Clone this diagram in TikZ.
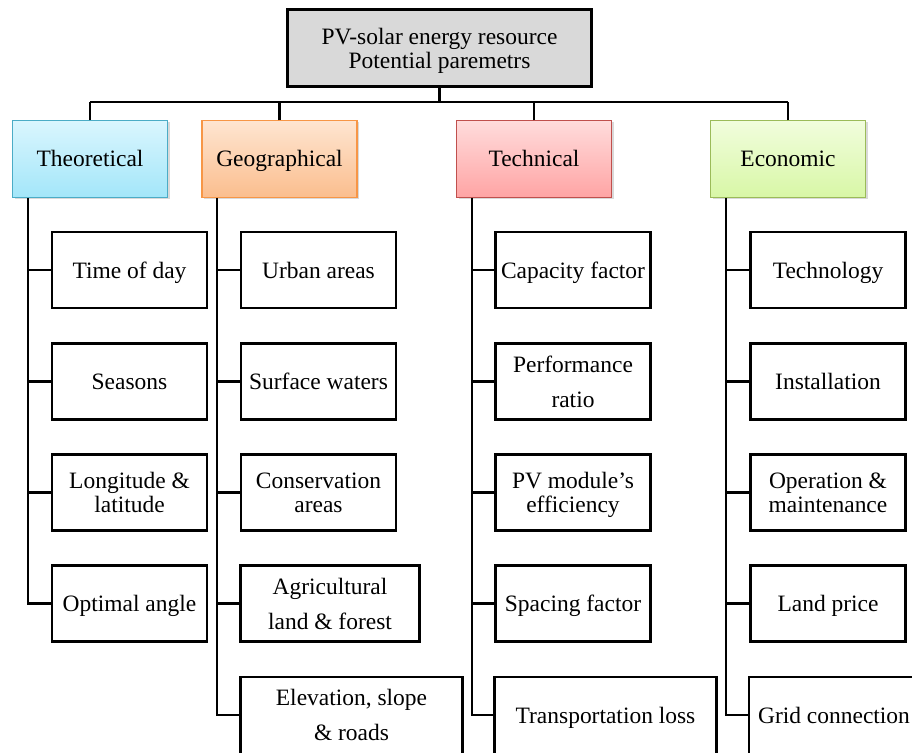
\documentclass[tikz,border=0pt]{standalone}
\usepackage{fontspec}
\setmainfont{Liberation Serif}
\usetikzlibrary{shadows}
\definecolor{thD}{HTML}{4BACC6}\definecolor{thA}{HTML}{DAF6FE}\definecolor{thB}{HTML}{A3E6F9}
\definecolor{geD}{HTML}{F79646}\definecolor{geA}{HTML}{FEE5D1}\definecolor{geB}{HTML}{FBBE8E}
\definecolor{teD}{HTML}{C0504D}\definecolor{teA}{HTML}{FFDCDC}\definecolor{teB}{HTML}{FFA4A4}
\definecolor{ecD}{HTML}{9BBB59}\definecolor{ecA}{HTML}{F1FDDD}\definecolor{ecB}{HTML}{D8F7A6}
\begin{document}
\begin{tikzpicture}[x=0.75pt,y=-0.75pt,
  font=\fontsize{17.6}{18}\selectfont,
  every node/.style={outer sep=0pt, text height=15pt, text depth=3pt},
  bx/.style={draw=black, line width=2.2pt, line join=miter, minimum width=116.25pt, minimum height=57pt, align=center, inner sep=1pt, fill=white},
  tight/.style={text height=33.5pt, text depth=3pt},
  loose/.style={font=\fontsize{17.6}{26}\selectfont, text height=41.25pt, text depth=3pt},
  lastone/.style={anchor=north, text height=33.5pt, text depth=30.5pt},
  lasttwo/.style={anchor=north, font=\fontsize{17.6}{26}\selectfont, text height=46.25pt, text depth=17.75pt},
  cat/.style={line width=1.4pt, minimum width=116.25pt, minimum height=57.75pt, inner sep=1pt,
    drop shadow={opacity=0.3,shadow xshift=1.5pt,shadow yshift=-1.5pt}},
  wire/.style={line width=2.2pt, line join=miter}]
\clip (0,0) rectangle (912,752);
% top
\node[bx, tight, fill=gray!30, minimum width=228pt, minimum height=57.75pt] (top) at (439.5,48) {PV-solar energy resource\\Potential paremetrs};
% categories
\node[cat, draw=thD, top color=thA, bottom color=thB] (th) at (90,159) {Theoretical};
\node[cat, draw=geD, top color=geA, bottom color=geB] (ge) at (279.5,159) {Geographical};
\node[cat, draw=teD, top color=teA, bottom color=teB] (te) at (534,159) {Technical};
\node[cat, draw=ecD, top color=ecA, bottom color=ecB] (ec) at (788,159) {Economic};
% bar
\coordinate (bL) at (90,102);
\coordinate (bR) at (788,102);
\draw[wire] (bL) -- (bR);
\draw[wire] (top.south) -- (top.south |- bL);
\foreach \n in {th,ge,te,ec} \draw[wire] (\n.north) -- (\n.north |- bL);
% theoretical children
\node[bx] (t1) at (129.5,270) {Time of day};
\node[bx] (t2) at (129.5,381.5) {Seasons};
\node[bx, tight] (t3) at (129.5,492.5) {Longitude \&\\latitude};
\node[bx] (t4) at (129.5,603.5) {Optimal angle};
% geographical children
\node[bx] (g1) at (318.5,270) {Urban areas};
\node[bx] (g2) at (318.5,381.5) {Surface waters};
\node[bx, tight] (g3) at (318.5,492.5) {Conservation\\areas};
\node[bx, loose, minimum width=134pt] (g4) at (330,603.5) {Agricultural\\land \& forest};
\node[bx, lasttwo, minimum width=166.5pt] (g5) at (351.5,677) {Elevation, slope\\\& roads};
% technical children
\node[bx] (k1) at (573,270) {Capacity factor};
\node[bx, loose] (k2) at (573,381.5) {Performance\\ratio};
\node[bx, tight] (k3) at (573,492.5) {PV module’s\\efficiency};
\node[bx] (k4) at (573,603.5) {Spacing factor};
\node[bx, lastone, minimum width=166.5pt] (k5) at (605.5,677) {Transportation loss};
% economic children
\node[bx] (e1) at (828,270) {Technology};
\node[bx] (e2) at (828,381.5) {Installation};
\node[bx, tight] (e3) at (828,492.5) {Operation \&\\maintenance};
\node[bx] (e4) at (828,603.5) {Land price};
\node[bx, lastone, minimum width=127.5pt] (e5) at (834,677) {Grid connection};
% spines
\coordinate (sTh) at (28,198);
\coordinate (sGe) at (217,198);
\coordinate (sTe) at (472,198);
\coordinate (sEc) at (726,198);
\coordinate (yL) at (0,715);
\draw[wire] (sTh) |- (t4.west);
\foreach \c in {t1,t2,t3} \draw[wire] (\c.west -| sTh) -- (\c.west);
\draw[wire] (sGe) |- (g5.west |- yL);
\foreach \c in {g1,g2,g3,g4} \draw[wire] (\c.west -| sGe) -- (\c.west);
\draw[wire] (sTe) |- (k5.west |- yL);
\foreach \c in {k1,k2,k3,k4} \draw[wire] (\c.west -| sTe) -- (\c.west);
\draw[wire] (sEc) |- (e5.west |- yL);
\foreach \c in {e1,e2,e3,e4} \draw[wire] (\c.west -| sEc) -- (\c.west);
\end{tikzpicture}
\end{document}
